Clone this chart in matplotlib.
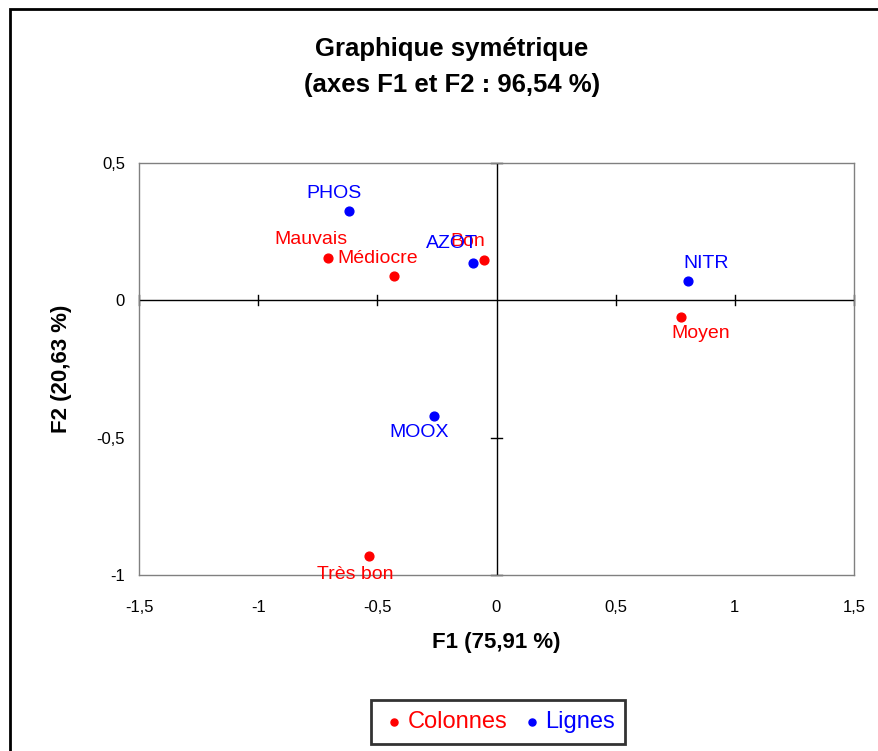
import matplotlib
matplotlib.use("Agg")
import matplotlib.pyplot as plt
from matplotlib.patches import Rectangle

plt.rcParams['font.family'] = ['Liberation Sans', 'DejaVu Sans']

# Colonnes (red)
col_labels = ['Mauvais', 'Médiocre', 'Bon', 'Moyen', 'Très bon']
col_f1 = [-0.707, -0.430, -0.052, 0.774, -0.535]
col_f2 = [0.154, 0.088, 0.147, -0.061, -0.931]

# Lignes (blue)
lig_labels = ['PHOS', 'AZOT', 'NITR', 'MOOX']
lig_f1 = [-0.619, -0.099, 0.804, -0.262]
lig_f2 = [0.325, 0.136, 0.070, -0.421]

x_ticks = [-1.5, -1, -0.5, 0, 0.5, 1, 1.5]
x_tick_labels = ['-1,5', '-1', '-0,5', '0', '0,5', '1', '1,5']
y_ticks = [-1, -0.5, 0, 0.5]
y_tick_labels = ['-1', '-0,5', '0', '0,5']

# label offsets in points (dx, dy)
col_offsets = [(-12, 13), (-12, 13), (-12, 13), (14, -12), (-10, -13)]
lig_offsets = [(-11, 13), (-15, 14), (13, 13), (-11, -12)]

fig = plt.figure(figsize=(8.79, 7.51), dpi=100)
ax = fig.add_axes([139 / 879, 1 - 575 / 751, (854 - 139) / 879, (575 - 163) / 751])

ax.set_xlim(-1.5, 1.5)
ax.set_ylim(-1, 0.5)

for s in ax.spines.values():
    s.set_color('#808080')
    s.set_linewidth(1)

# axes through origin with cross ticks
ax.axhline(0, color='black', lw=1, zorder=1)
ax.axvline(0, color='black', lw=1, zorder=1)
tlx = 0.018   # half length of ticks on horizontal axis (y units)
tly = 0.021   # half length of ticks on vertical axis (x units)
for xt in x_ticks:
    if xt != 0:
        ax.plot([xt, xt], [-tlx, tlx], color='black', lw=1, zorder=1, clip_on=False)
for yt in y_ticks:
    if yt != 0:
        ax.plot([-tly, tly], [yt, yt], color='black', lw=1, zorder=1, clip_on=False)

ax.set_xticks(x_ticks)
ax.set_xticklabels(x_tick_labels)
ax.set_yticks(y_ticks)
ax.set_yticklabels(y_tick_labels)
ax.tick_params(axis='x', length=0, pad=18, labelsize=12)
ax.tick_params(axis='y', length=0, pad=10, labelsize=12)

ax.scatter(col_f1, col_f2, s=40, color='#ff0000', zorder=3, label='Colonnes')
ax.scatter(lig_f1, lig_f2, s=40, color='#0000ff', zorder=3, label='Lignes')

for lab, x, y, off in zip(col_labels, col_f1, col_f2, col_offsets):
    ax.annotate(lab, (x, y), xytext=off, textcoords='offset points',
                ha='center', va='center', color='#ff0000', fontsize=14, zorder=4)
for lab, x, y, off in zip(lig_labels, lig_f1, lig_f2, lig_offsets):
    ax.annotate(lab, (x, y), xytext=off, textcoords='offset points',
                ha='center', va='center', color='#0000ff', fontsize=14, zorder=4)

ax.set_xlabel('F1 (75,91 %)', fontsize=16, fontweight='bold', labelpad=12)
ax.set_ylabel('F2 (20,63 %)', fontsize=16, fontweight='bold', labelpad=18)

fig.text(452 / 879, 1 - 67 / 751, 'Graphique symétrique\n(axes F1 et F2 : 96,54 %)',
         ha='center', va='center', fontsize=18.5, fontweight='bold', linespacing=1.6)

leg = fig.legend(loc='center', bbox_to_anchor=(498 / 879, 1 - 722 / 751), ncol=2,
                 fontsize=17, frameon=True, fancybox=False, handletextpad=0.0,
                 columnspacing=0.5, markerscale=0.8, borderpad=0.45, handlelength=1.1)
leg.get_frame().set_edgecolor('black')
leg.get_frame().set_linewidth(2)
for txt, c in zip(leg.get_texts(), ['#ff0000', '#0000ff']):
    txt.set_color(c)

# outer chart border (extends past right/bottom edge)
fig.patches.append(Rectangle((10 / 879, -0.1), 1.2, 1 - 9 / 751 + 0.1,
                             transform=fig.transFigure, fill=False,
                             edgecolor='black', lw=2))

fig.savefig('out.png', dpi=100)
